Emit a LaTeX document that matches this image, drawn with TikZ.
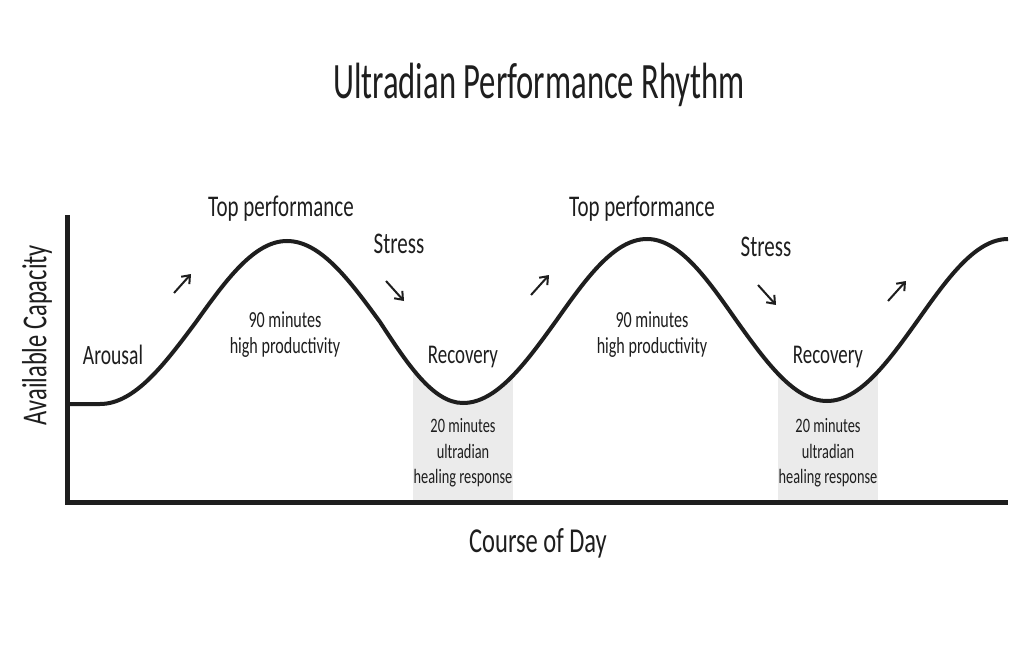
\documentclass[tikz,border=0pt]{standalone}
\usepackage{fontspec}
\setmainfont{Carlito}[FakeStretch=0.7]
\newfontfamily\titlefont{Carlito}[FakeStretch=0.64]
\usetikzlibrary{arrows.meta}
\definecolor{ink}{HTML}{1E1E1E}
\definecolor{recgray}{HTML}{EBEBEB}
\begin{document}
\begin{tikzpicture}[x=1pt,y=-1pt,
  lbl/.style={text=ink,inner sep=0pt,align=center},
  big/.style={lbl,font=\fontsize{30}{33}\selectfont},
  mid/.style={lbl,font=\fontsize{23}{26}\selectfont},
  small/.style={lbl,font=\fontsize{20.5}{25.5}\selectfont},
  axis/.style={draw=ink,line width=5pt},
  wave/.style={draw=ink,line width=4pt},
  arr/.style={draw=ink,line width=2pt,-{Straight Barb[length=7pt,width=11pt]}}]
\useasboundingbox[fill=white] (0,0) rectangle (1024,647);
\def\wavepath{(70,404) -- (100,404) cos (196,322) sin (287,241) cos (380,322) sin (463,403)
  cos (556,321) sin (647,239) cos (736,320) sin (827,401) cos (918,320) sin (1008,239)}
% shaded recovery windows under the curve
\begin{scope}
  \clip \wavepath -- (1008,502) -- (70,502) -- cycle;
  \fill[recgray] (413,300) rectangle (513,502);
  \fill[recgray] (778,300) rectangle (878,502);
\end{scope}
% axes
\coordinate (ytop) at (67,215);
\coordinate (orig) at (67,502);
\coordinate (xend) at (1008,502);
\draw[axis] (ytop) -- (orig) -- (xend);
% curve
\draw[wave] \wavepath;
% title
\node[lbl,font=\titlefont\fontsize{51}{55}\selectfont] (title) at (539,85) {Ultradian Performance Rhythm};
% axis labels
\node[lbl,font=\fontsize{35}{38}\selectfont,rotate=90] (ylab) at (37,335) {Available Capacity};
\node[lbl,font=\fontsize{35}{38}\selectfont] (xlab) at (538,543) {Course of Day};
% first cycle
\node[lbl,font=\fontsize{28}{31}\selectfont] (arousal) at (113,355) {Arousal};
\node[big] (top1) at (281,209) {Top performance};
\node[big] (stress1) at (399,244) {Stress};
\node[mid] (work1) at (285,335) {90 minutes\\high productivity};
\node[lbl,font=\fontsize{27}{30}\selectfont] (rec1) at (463,357) {Recovery};
\node[small] (heal1) at (463,453) {20 minutes\\ultradian\\healing response};
% second cycle
\node[big] (top2) at (642,209) {Top performance};
\node[big] (stress2) at (766,247) {Stress};
\node[mid] (work2) at (652,335) {90 minutes\\high productivity};
\node[lbl,font=\fontsize{27}{30}\selectfont] (rec2) at (828,357) {Recovery};
\node[small] (heal2) at (828,453) {20 minutes\\ultradian\\healing response};
% direction arrows
\coordinate (u1s) at (174,293); \coordinate (u1e) at (191,274);
\coordinate (d1s) at (386,281); \coordinate (d1e) at (404,301);
\coordinate (u2s) at (531,295); \coordinate (u2e) at (549,275);
\coordinate (d2s) at (758,285); \coordinate (d2e) at (776,305);
\coordinate (u3s) at (888,301); \coordinate (u3e) at (906,281);
\draw[arr] (u1s) -- (u1e);
\draw[arr] (d1s) -- (d1e);
\draw[arr] (u2s) -- (u2e);
\draw[arr] (d2s) -- (d2e);
\draw[arr] (u3s) -- (u3e);
\end{tikzpicture}
\end{document}
